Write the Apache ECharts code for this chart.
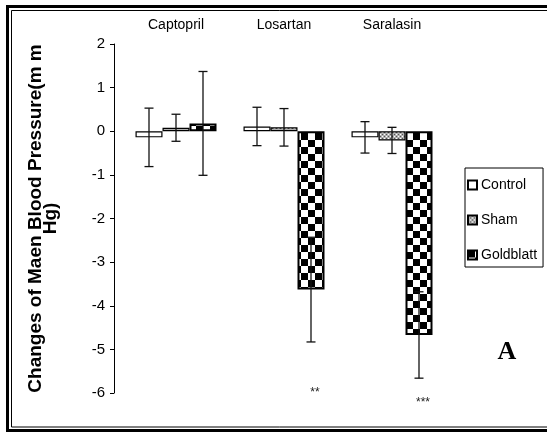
<!DOCTYPE html>
<html>
<head>
<meta charset="utf-8">
<script src="https://cdn.jsdelivr.net/npm/echarts@6/dist/echarts.min.js"></script>
<style>
html,body{margin:0;padding:0;background:#fff;}
#chart{width:547px;height:432px;}
</style>
</head>
<body>
<div id="chart"></div>
<script>
// ---- data ----
var categories = ['Captopril', 'Losartan', 'Saralasin'];
var seriesNames = ['Control', 'Sham', 'Goldblatt'];
var controlMean = [-0.14, 0.11, -0.14];
var shamMean = [0.08, 0.09, -0.21];
var goldblattMean = [0.18, -3.63, -4.67];
var controlErr = [0.67, 0.44, 0.36];
var shamErr = [0.31, 0.43, 0.30];
var goldblattErr = [1.19, 1.20, 0.99];
var starLabels = ['', '**', '***'];
var starValues = [null, -6.0, -6.23];
var yTicks = [2, 1, 0, -1, -2, -3, -4, -5, -6];
var yTitle = 'Changes of Maen Blood Pressure(m m\nHg)';
var panelLetter = 'A';

// ---- styles ----
var BAR_W = 27;
var SANS = '"Liberation Sans", Arial, sans-serif';

function makeCanvas(w, h, draw) {
  var c = document.createElement('canvas');
  c.width = w; c.height = h;
  draw(c.getContext('2d'));
  return c;
}
var checker = makeCanvas(14, 14, function (g) {
  g.fillStyle = '#fff'; g.fillRect(0, 0, 14, 14);
  g.fillStyle = '#000'; g.fillRect(0, 0, 7, 7); g.fillRect(7, 7, 7, 7);
});
var dots = makeCanvas(4, 4, function (g) {
  g.fillStyle = '#b0b0b0'; g.fillRect(0, 0, 4, 4);
  g.fillStyle = '#555'; g.fillRect(0, 0, 1, 1); g.fillRect(2, 2, 1, 1);
  g.fillStyle = '#fff'; g.fillRect(2, 0, 1, 1); g.fillRect(0, 2, 1, 1);
});
var fills = ['#ffffff', { image: dots, repeat: 'repeat' }, { image: checker, repeat: 'repeat' }];
var means = [controlMean, shamMean, goldblattMean];
var errs = [controlErr, shamErr, goldblattErr];

var chart = echarts.init(document.getElementById('chart'), null, { renderer: 'canvas' });

var series = [];
seriesNames.forEach(function (name, i) {
  series.push({
    name: name,
    type: 'bar',
    data: means[i],
    barWidth: BAR_W,
    barGap: '0%',
    itemStyle: { color: fills[i], borderColor: '#000', borderWidth: i === 2 ? 2 : 1.2 },
    emphasis: { disabled: true },
    z: 2
  });
});
seriesNames.forEach(function (name, i) {
  var data = categories.map(function (c, k) { return [k, means[i][k], errs[i][k]]; });
  series.push({
    type: 'custom',
    data: data,
    z: 5,
    silent: true,
    renderItem: function (params, api) {
      var k = api.value(0), m = api.value(1), e = api.value(2);
      var top = api.coord([k, m + e]);
      var bot = api.coord([k, m - e]);
      var x = top[0] + (i - 1) * BAR_W;
      var cap = 4.5;
      var st = { stroke: '#111', lineWidth: 1.3 };
      return {
        type: 'group',
        children: [
          { type: 'line', shape: { x1: x, y1: top[1], x2: x, y2: bot[1] }, style: st },
          { type: 'line', shape: { x1: x - cap, y1: top[1], x2: x + cap, y2: top[1] }, style: st },
          { type: 'line', shape: { x1: x - cap, y1: bot[1], x2: x + cap, y2: bot[1] }, style: st }
        ]
      };
    }
  });
});
series.push({
  type: 'custom',
  data: categories.map(function (c, k) { return [k, starValues[k], starLabels[k]]; }).filter(function (d) { return d[1] !== null; }),
  z: 6,
  silent: true,
  renderItem: function (params, api) {
    var p = api.coord([api.value(0), api.value(1)]);
    return {
      type: 'text',
      style: {
        text: starLabels[api.value(0)],
        x: p[0] + BAR_W + 4, y: p[1],
        align: 'center', verticalAlign: 'middle',
        font: '12px ' + SANS, fill: '#222'
      }
    };
  }
});

chart.setOption({
  animation: false,
  backgroundColor: '#fff',
  grid: { left: 122, right: 101, top: 44, bottom: 39 },
  legend: {
    data: seriesNames,
    orient: 'vertical',
    left: 465, top: 168,
    icon: 'rect',
    itemWidth: 9, itemHeight: 9,
    itemGap: 21,
    padding: [10, 6, 5, 2],
    borderColor: '#000', borderWidth: 1,
    selectedMode: false,
    textStyle: { fontFamily: SANS, fontSize: 14, color: '#000', padding: [0, 0, 0, -1] }
  },
  xAxis: {
    type: 'category',
    data: categories,
    position: 'top',
    axisLine: { show: false, onZero: false },
    axisTick: { show: false },
    axisLabel: { fontFamily: SANS, fontSize: 14, color: '#000', margin: 12 },
    splitLine: { show: false }
  },
  yAxis: {
    type: 'value',
    min: -6, max: 2, interval: 1,
    offset: 8,
    name: yTitle,
    nameLocation: 'middle',
    nameRotate: 90,
    nameGap: 56,
    nameTextStyle: {
      fontFamily: SANS, fontWeight: 'bold',
      fontSize: 19, color: '#000', lineHeight: 15, align: 'center'
    },
    axisLine: { show: true, lineStyle: { color: '#000', width: 1 } },
    axisTick: { show: true, length: 4, lineStyle: { color: '#000' } },
    axisLabel: {
      fontFamily: SANS, fontSize: 15, color: '#000', margin: 9,
      formatter: function (v) { return yTicks.indexOf(v) >= 0 ? String(v) : ''; }
    },
    splitLine: { show: false }
  },
  series: series,
  graphic: [
    { type: 'rect', shape: { x: 7.5, y: 6.5, width: 600, height: 424 }, style: { fill: 'none', stroke: '#000', lineWidth: 3 }, silent: true },
    { type: 'rect', shape: { x: 11.5, y: 10.5, width: 600, height: 416.5 }, style: { fill: 'none', stroke: '#000', lineWidth: 1 }, silent: true },
    { type: 'text', x: 507, y: 352, style: { text: panelLetter, font: 'bold 26px "Liberation Serif", "Times New Roman", serif', fill: '#000', align: 'center', verticalAlign: 'middle' }, silent: true }
  ]
});
</script>
</body>
</html>
